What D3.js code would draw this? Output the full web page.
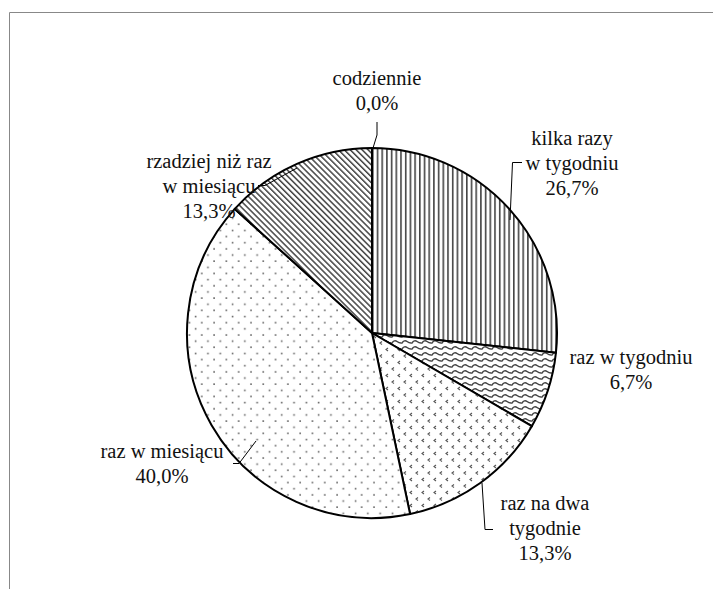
<!DOCTYPE html>
<html>
<head>
<meta charset="utf-8">
<script src="https://cdn.jsdelivr.net/npm/d3@7"></script>
<style>
  html, body { margin: 0; padding: 0; background: #fff; }
  svg { display: block; }
</style>
</head>
<body>
<svg id="chart" width="723" height="589"></svg>
<script>
// Frequency categories and shares (%)
const categories = ["codziennie", "kilka razy w tygodniu", "raz w tygodniu", "raz na dwa tygodnie", "raz w miesiącu", "rzadziej niż raz w miesiącu"];
const values = [0.0, 26.7, 6.7, 13.3, 40.0, 13.3];
const labelLines = [
  ["codziennie", "0,0%"],
  ["kilka razy", "w tygodniu", "26,7%"],
  ["raz w tygodniu", "6,7%"],
  ["raz na dwa", "tygodnie", "13,3%"],
  ["raz w miesiącu", "40,0%"],
  ["rzadziej niż raz", "w miesiącu", "13,3%"]
];
const patternIds = ["pVert", "pVert", "pWave", "pChevron", "pDots", "pDiag"];

const svg = d3.select("#chart");
const cx = 372, cy = 333, R = 185;

// Fill patterns
const defs = svg.append("defs");
const ink = "#444";

const vert = defs.append("pattern").attr("id", "pVert").attr("patternUnits", "userSpaceOnUse")
  .attr("width", 4.7).attr("height", 10);
vert.append("rect").attr("width", 4.7).attr("height", 10).attr("fill", "#fff");
vert.append("rect").attr("x", 0).attr("width", 1.6).attr("height", 10).attr("fill", ink);

const diag = defs.append("pattern").attr("id", "pDiag").attr("patternUnits", "userSpaceOnUse")
  .attr("width", 4.2).attr("height", 4.2).attr("patternTransform", "rotate(-45)");
diag.append("rect").attr("width", 4.2).attr("height", 4.2).attr("fill", "#fff");
diag.append("rect").attr("width", 1.5).attr("height", 4.2).attr("fill", ink);

const wave = defs.append("pattern").attr("id", "pWave").attr("patternUnits", "userSpaceOnUse")
  .attr("width", 10).attr("height", 6);
wave.append("rect").attr("width", 10).attr("height", 6).attr("fill", "#fff");
wave.append("path").attr("d", "M0,4 Q2.5,0.5 5,2.5 T10,4 M0,4 Q-2.5,6.5 -5,2.5")
  .attr("fill", "none").attr("stroke", ink).attr("stroke-width", 1.5);

const chev = defs.append("pattern").attr("id", "pChevron").attr("patternUnits", "userSpaceOnUse")
  .attr("width", 12).attr("height", 13);
chev.append("rect").attr("width", 12).attr("height", 13).attr("fill", "#fff");
[[2, 2], [8, 8.5]].forEach(([x, y]) => {
  chev.append("path").attr("d", `M${x + 2},${y} L${x},${y + 1.5} L${x + 2},${y + 3}`)
    .attr("fill", "none").attr("stroke", "#555").attr("stroke-width", 1.1);
});

const dots = defs.append("pattern").attr("id", "pDots").attr("patternUnits", "userSpaceOnUse")
  .attr("width", 12.3).attr("height", 12.3);
dots.append("rect").attr("width", 12.3).attr("height", 12.3).attr("fill", "#fff");
[[2, 2], [8.15, 8.15]].forEach(([x, y]) => {
  dots.append("rect").attr("x", x - 0.8).attr("y", y - 0.8).attr("width", 1.6).attr("height", 1.6).attr("fill", "#666");
});

// Outer frame (top and left edges visible)
svg.append("path").attr("d", "M9.5,589 L9.5,12.5 L713,12.5")
  .attr("fill", "none").attr("stroke", "#888").attr("stroke-width", 1);

// Pie
const pie = d3.pie().sort(null).value(d => d)(values);
const arc = d3.arc().innerRadius(0).outerRadius(R);
const g = svg.append("g").attr("transform", `translate(${cx},${cy})`);

g.selectAll("path.slice").data(pie).enter().append("path")
  .attr("class", "slice")
  .attr("d", arc)
  .attr("fill", (d, i) => `url(#${patternIds[i]})`)
  .attr("stroke", "#000").attr("stroke-width", 2).attr("stroke-linejoin", "round");

// Labels (first-line baselines) and leader lines
const labelPos = [
  { x: 377, y: 85 },
  { x: 572, y: 145 },
  { x: 631, y: 364 },
  { x: 545, y: 510 },
  { x: 162, y: 458 },
  { x: 209, y: 168 }
];
const leaders = [
  "M377,122 L377,135 L373,148",
  "M522,162.5 L512.5,162.5 L510,220",
  null,
  "M482,483 L485,529.5 L493,529.5",
  "M233,463.5 L239,463.5 L256,441",
  "M258,185.5 L265,185.5 L297,168"
];

const lineH = 25;
labelLines.forEach((lines, i) => {
  const t = svg.append("text").attr("text-anchor", "middle")
    .attr("font-family", "Liberation Serif").attr("font-size", 20.5).attr("fill", "#111");
  lines.forEach((s, k) => {
    t.append("tspan").attr("x", labelPos[i].x).attr("y", labelPos[i].y + k * lineH).text(s);
  });
  if (leaders[i]) {
    svg.append("path").attr("d", leaders[i]).attr("fill", "none")
      .attr("stroke", "#000").attr("stroke-width", 1);
  }
});
</script>
</body>
</html>
